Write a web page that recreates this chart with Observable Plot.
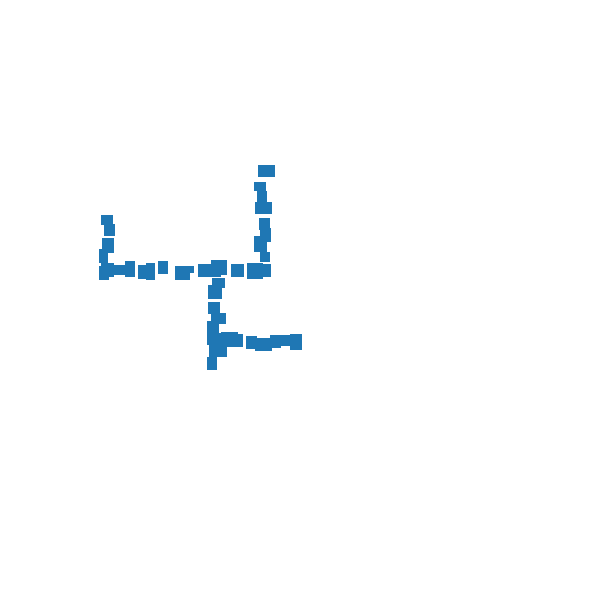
<!DOCTYPE html>
<html>
<head>
<meta charset="utf-8">
<script src="https://cdn.jsdelivr.net/npm/d3@7"></script>
<script src="https://cdn.jsdelivr.net/npm/@observablehq/plot@0.6"></script>
<style>
  html, body { margin: 0; padding: 0; background: #fff; }
</style>
</head>
<body>
<div id="chart"></div>
<script>
const x1 = [258,254,257,255,259,260,254,260,247,259,231,211,198,206,212,208,208,211,207,207,221,228,209,207,246,255,270,280,290,101,104,102,99,101,99,109,125,138,146,158,175,180];
const x2 = [275,266,267,272,270,271,267,270,263,271,244,227,213,221,225,222,220,226,219,221,238,243,227,217,257,272,281,290,302,113,115,114,108,114,109,126,135,148,155,168,190,194];
const y1 = [165,182,191,202,218,228,236,252,263,264,264,260,264,264,278,285,302,313,321,333,332,334,344,357,336,338,335,335,334,215,224,238,249,263,266,265,261,265,263,261,266,266];
const y2 = [177,191,203,214,230,242,252,262,279,277,277,275,277,277,288,299,314,324,335,345,347,347,357,370,349,351,348,346,350,225,236,253,263,277,280,275,277,279,280,274,280,273];

const data = x1.map((_, i) => ({x1: x1[i], x2: x2[i], y1: y1[i], y2: y2[i]}));

const chart = Plot.plot({
  width: 600,
  height: 600,
  margin: 0,
  x: {domain: [0, 600], axis: null},
  y: {domain: [600, 0], axis: null},
  marks: [
    Plot.rect(data, {x1: "x1", x2: "x2", y1: "y1", y2: "y2", fill: "#1f77b4", inset: 0})
  ]
});
document.getElementById("chart").appendChild(chart);
</script>
</body>
</html>
